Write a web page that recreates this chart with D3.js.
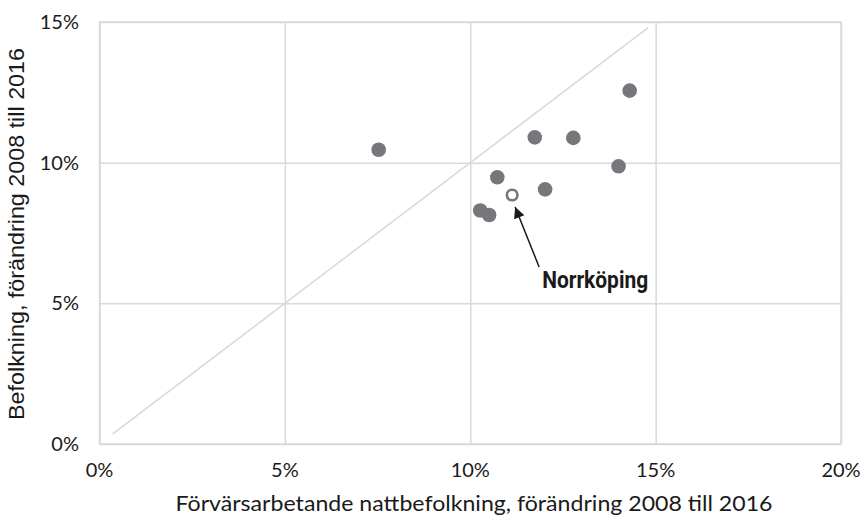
<!DOCTYPE html>
<html>
<head>
<meta charset="utf-8">
<script src="https://cdn.jsdelivr.net/npm/d3@7"></script>
<style>
  html, body { margin: 0; padding: 0; background: #fff; }
  svg { display: block; }
</style>
</head>
<body>
<script>
// Data (percent)
const xValues = [7.53, 10.27, 10.51, 10.73, 11.74, 12.02, 12.78, 14.00, 14.30];
const yValues = [10.46, 8.30, 8.14, 9.48, 10.90, 9.05, 10.88, 9.87, 12.56];
const highlightName = "Norrköping";
const highlightX = [11.13];
const highlightY = [8.85];
const xTicks = [0, 5, 10, 15, 20];
const yTicks = [0, 5, 10, 15];
const diagonal = [0.35, 14.8];
const xTitle = "Förvärsarbetande nattbefolkning, förändring 2008 till 2016";
const yTitle = "Befolkning, förändring 2008 till 2016";

const W = 866, H = 517;
const margin = { left: 99.5, right: 25, top: 22, bottom: 73 };

const svg = d3.select("body").append("svg").attr("width", W).attr("height", H);

const x = d3.scaleLinear().domain([0, 20]).range([margin.left, W - margin.right]);
const y = d3.scaleLinear().domain([0, 15]).range([H - margin.bottom, margin.top]);

const gridColor = "#d9d9d9";
const tickFont = "Lato, 'Open Sans', sans-serif";

// Gridlines via axes
svg.append("g")
  .attr("transform", `translate(0,${y(0)})`)
  .call(d3.axisBottom(x).tickValues(xTicks).tickSize(-(y(0) - y(15))).tickFormat(""))
  .call(g => g.select(".domain").remove())
  .call(g => g.selectAll("line").attr("stroke", gridColor).attr("stroke-width", 1.5));

svg.append("g")
  .attr("transform", `translate(${x(0)},0)`)
  .call(d3.axisLeft(y).tickValues(yTicks).tickSize(-(x(20) - x(0))).tickFormat(""))
  .call(g => g.select(".domain").remove())
  .call(g => g.selectAll("line").attr("stroke", gridColor).attr("stroke-width", 1.5));

// Frame
svg.append("rect")
  .attr("x", x(0)).attr("y", y(15))
  .attr("width", x(20) - x(0)).attr("height", y(0) - y(15))
  .attr("fill", "none").attr("stroke", gridColor).attr("stroke-width", 1.5);

// Tick labels
svg.append("g").selectAll("text").data(xTicks).join("text")
  .attr("x", d => x(d)).attr("y", y(0) + 33)
  .attr("text-anchor", "middle")
  .attr("font-family", tickFont).attr("font-size", 20).attr("fill", "#1a1a1a")
  .text(d => d + "%");

svg.append("g").selectAll("text").data(yTicks).join("text")
  .attr("x", x(0) - 20.5).attr("y", d => y(d) + 7)
  .attr("text-anchor", "end")
  .attr("font-family", tickFont).attr("font-size", 20).attr("fill", "#1a1a1a")
  .text(d => d + "%");

// Axis titles
svg.append("text")
  .attr("x", 474).attr("y", 511)
  .attr("text-anchor", "middle")
  .attr("font-family", tickFont).attr("font-size", 21).attr("fill", "#1a1a1a")
  .attr("textLength", 597).attr("lengthAdjust", "spacingAndGlyphs")
  .text(xTitle);

svg.append("text")
  .attr("transform", `translate(23.5,${234}) rotate(-90)`)
  .attr("text-anchor", "middle")
  .attr("font-family", "'Liberation Sans', Arial, sans-serif").attr("font-size", 22.5).attr("fill", "#1a1a1a")
  .attr("textLength", 372).attr("lengthAdjust", "spacingAndGlyphs")
  .text(yTitle);

// Diagonal reference line
svg.append("line")
  .attr("x1", x(diagonal[0])).attr("y1", y(diagonal[0]))
  .attr("x2", x(diagonal[1])).attr("y2", y(diagonal[1]))
  .attr("stroke", gridColor).attr("stroke-width", 1.5);

// Points
const pts = xValues.map((v, i) => ({ x: v, y: yValues[i] }));
svg.append("g").selectAll("circle").data(pts).join("circle")
  .attr("cx", d => x(d.x)).attr("cy", d => y(d.y))
  .attr("r", 7.3).attr("fill", "#76777b");

// Highlighted point
const hl = highlightX.map((v, i) => ({ x: v, y: highlightY[i] }));
svg.append("g").selectAll("circle").data(hl).join("circle")
  .attr("cx", d => x(d.x)).attr("cy", d => y(d.y))
  .attr("r", 5.3).attr("fill", "#fff").attr("stroke", "#76777b").attr("stroke-width", 2.6);

// Arrow annotation
const defs = svg.append("defs");
defs.append("marker")
  .attr("id", "arrow").attr("viewBox", "0 0 10 10")
  .attr("refX", 10).attr("refY", 5)
  .attr("markerWidth", 16).attr("markerHeight", 11)
  .attr("markerUnits", "userSpaceOnUse")
  .attr("orient", "auto")
  .append("path").attr("d", "M0,0 L10,5 L0,10 Z").attr("fill", "#1a1a1a");

const hx = x(highlightX[0]), hy = y(highlightY[0]);
svg.append("line")
  .attr("x1", hx + 27).attr("y1", hy + 72)
  .attr("x2", hx + 3).attr("y2", hy + 12)
  .attr("stroke", "#1a1a1a").attr("stroke-width", 1.5)
  .attr("marker-end", "url(#arrow)");

svg.append("text")
  .attr("x", hx + 30).attr("y", hy + 93)
  .attr("font-family", "Roboto, 'Liberation Sans', sans-serif").attr("font-weight", "bold")
  .attr("font-size", 23).attr("fill", "#1a1a1a")
  .attr("textLength", 106).attr("lengthAdjust", "spacingAndGlyphs")
  .text(highlightName);
</script>
</body>
</html>
